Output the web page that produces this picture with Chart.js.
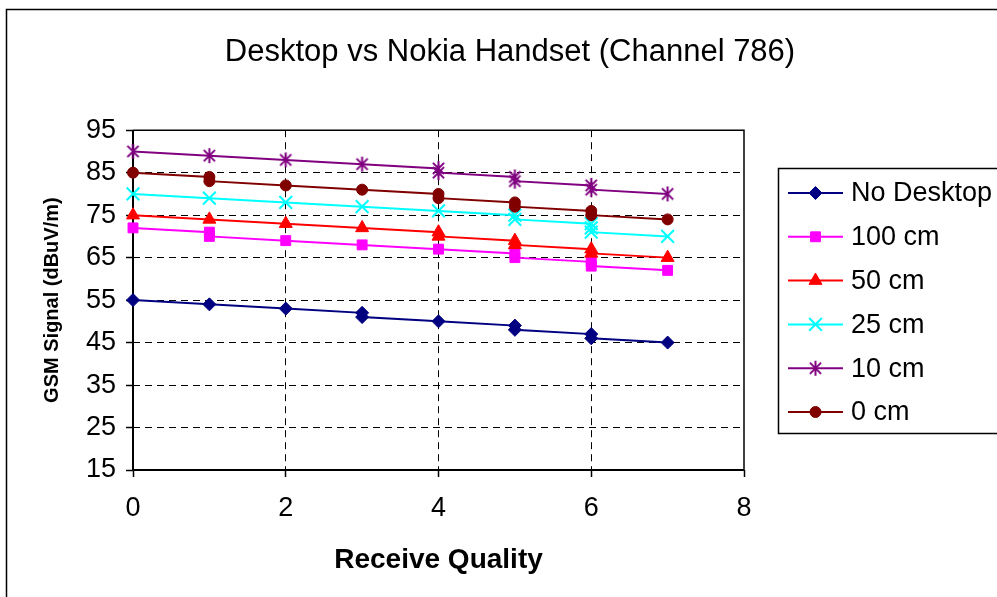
<!DOCTYPE html>
<html>
<head>
<meta charset="utf-8">
<script src="https://cdn.jsdelivr.net/npm/chart.js@4/dist/chart.umd.min.js"></script>
<style>
  html, body { margin: 0; padding: 0; background: #fff; }
  canvas { display: block; }
</style>
</head>
<body>
<canvas id="chart" width="997" height="597"></canvas>
<script>
// Receive quality (x) and GSM field strength (y) readings per handset distance
const seriesNames = ['No Desktop', '100 cm', '50 cm', '25 cm', '10 cm', '0 cm'];

const qualityNoDesktop = [0, 1, 2, 3, 3, 4, 5, 5, 6, 6, 7];
const signalNoDesktop  = [55, 54, 53, 52, 51, 50, 49, 48, 47, 46, 45];

const quality100cm = [0, 1, 1, 2, 3, 4, 5, 5, 6, 6, 7];
const signal100cm  = [72, 71, 70, 69, 68, 67, 66, 65, 64, 63, 62];

const quality50cm = [0, 1, 2, 3, 4, 4, 5, 5, 6, 6, 7];
const signal50cm  = [75, 74, 73, 72, 71, 70, 69, 68, 67, 66, 65];

const quality25cm = [0, 1, 2, 3, 4, 5, 5, 6, 6, 6, 7];
const signal25cm  = [80, 79, 78, 77, 76, 75, 74, 73, 72, 71, 70];

const quality10cm = [0, 1, 2, 3, 4, 4, 5, 5, 6, 6, 7];
const signal10cm  = [90, 89, 88, 87, 86, 85, 84, 83, 82, 81, 80];

const quality0cm = [0, 1, 1, 2, 3, 4, 4, 5, 5, 6, 6, 7];
const signal0cm  = [85, 84, 83, 82, 81, 80, 79, 78, 77, 76, 75, 74];

const xTickValues = [0, 2, 4, 6, 8];
const yTickValues = [15, 25, 35, 45, 55, 65, 75, 85, 95];

const FONT = "'Liberation Sans', Arial, Helvetica, sans-serif";
Chart.defaults.font.family = FONT;
Chart.defaults.color = '#000';

const toPoints = (xs, ys) => xs.map((x, i) => ({ x: x, y: ys[i] }));

// asterisk marker: diagonal cross plus a vertical bar
function asteriskMarker(color) {
  const size = 17;
  const cv = document.createElement('canvas');
  cv.width = size; cv.height = size;
  const g = cv.getContext('2d');
  const m = size / 2, d = 5.6, v = 7.6;
  g.strokeStyle = color;
  g.lineWidth = 2;
  g.beginPath();
  g.moveTo(m - d, m - d); g.lineTo(m + d, m + d);
  g.moveTo(m + d, m - d); g.lineTo(m - d, m + d);
  g.moveTo(m, m - v); g.lineTo(m, m + v);
  g.stroke();
  return cv;
}

const seriesQuality = [qualityNoDesktop, quality100cm, quality50cm, quality25cm, quality10cm, quality0cm];
const seriesSignal  = [signalNoDesktop, signal100cm, signal50cm, signal25cm, signal10cm, signal0cm];

const styles = [
  { color: '#000080', pointStyle: 'rectRot',  radius: 6.5, border: 1 },
  { color: '#FF00FF', pointStyle: 'rect',     radius: 7,   border: 1 },
  { color: '#FF0000', pointStyle: 'triangle', radius: 7.5, border: 1 },
  { color: '#00FFFF', pointStyle: 'crossRot', radius: 9,   border: 2 },
  { color: '#800080', pointStyle: asteriskMarker('#800080'), radius: 8, border: 2 },
  { color: '#800000', pointStyle: 'circle',   radius: 5.5, border: 1 }
];

const datasets = seriesNames.map((name, i) => ({
  label: name,
  data: toPoints(seriesQuality[i], seriesSignal[i]),
  showLine: true,
  tension: 0,
  borderColor: styles[i].color,
  backgroundColor: styles[i].color,
  borderWidth: 2,
  pointStyle: styles[i].pointStyle,
  pointRadius: styles[i].radius,
  pointBackgroundColor: styles[i].color,
  pointBorderColor: styles[i].color,
  pointBorderWidth: styles[i].border,
  clip: false,
  order: seriesNames.length - 1 - i
}));

// white page with the outer chart frame
const chartFrame = {
  id: 'chartFrame',
  beforeDraw(chart) {
    const c = chart.ctx;
    c.save();
    c.fillStyle = '#fff';
    c.fillRect(0, 0, chart.width, chart.height);
    c.strokeStyle = '#000';
    c.lineWidth = 1.5;
    c.strokeRect(6.5, 9.5, chart.width + 50, chart.height + 50);
    c.restore();
  }
};

// solid border round the plot area (axes on left and bottom)
const plotFrame = {
  id: 'plotFrame',
  beforeDatasetsDraw(chart) {
    const { left, right, top, bottom } = chart.chartArea;
    const c = chart.ctx;
    c.save();
    c.strokeStyle = '#000';
    c.lineWidth = 1.5;
    c.beginPath();
    c.moveTo(left, top); c.lineTo(right, top); c.lineTo(right, bottom);
    c.stroke();
    c.lineWidth = 2;
    c.beginPath();
    c.moveTo(left, top); c.lineTo(left, bottom); c.lineTo(right, bottom);
    c.stroke();
    c.restore();
  }
};

// boxed legend with line-and-marker samples
const boxedLegend = {
  id: 'boxedLegend',
  afterDraw(chart) {
    const c = chart.ctx;
    const box = { left: 778, top: 168, bottom: 433 };
    c.save();
    c.strokeStyle = '#000';
    c.lineWidth = 1.5;
    c.strokeRect(box.left + 0.5, box.top + 0.5, chart.width, box.bottom - box.top);
    chart.data.datasets.forEach((ds, i) => {
      const y = 193 + i * 43.8;
      c.strokeStyle = ds.borderColor;
      c.lineWidth = ds.borderWidth;
      c.beginPath();
      c.moveTo(788, y);
      c.lineTo(843, y);
      c.stroke();
      c.fillStyle = ds.pointBackgroundColor;
      c.strokeStyle = ds.pointBorderColor;
      c.lineWidth = ds.pointBorderWidth;
      if (Chart.helpers && Chart.helpers.drawPoint) {
        Chart.helpers.drawPoint(c, {
          pointStyle: ds.pointStyle,
          radius: ds.pointRadius,
          rotation: 0,
          borderWidth: ds.pointBorderWidth
        }, 815.5, y);
      }
      c.fillStyle = '#000';
      c.font = '27px ' + FONT;
      c.textBaseline = 'middle';
      c.textAlign = 'left';
      c.fillText(ds.label, 851, y + 1);
    });
    c.restore();
  }
};

const edgeAware = (lo, hi) => (ctx) => {
  const v = ctx.tick ? ctx.tick.value : null;
  return (v === lo || v === hi) ? 'rgba(0,0,0,0)' : '#000';
};

new Chart(document.getElementById('chart'), {
  type: 'scatter',
  data: { datasets: datasets },
  plugins: [chartFrame, plotFrame, boxedLegend],
  options: {
    responsive: false,
    animation: false,
    devicePixelRatio: 1,
    layout: { padding: { left: 23, right: 0, top: 0, bottom: 0 } },
    plugins: {
      legend: { display: false },
      tooltip: { enabled: false },
      title: {
        display: true,
        text: 'Desktop vs Nokia Handset (Channel 786)',
        color: '#000',
        font: { size: 31, weight: 'normal' },
        padding: { top: 34, bottom: 59 },
        fullSize: true
      }
    },
    scales: {
      x: {
        type: 'linear',
        position: 'bottom',
        min: 0,
        max: 8,
        afterBuildTicks: (s) => { s.ticks = xTickValues.map(v => ({ value: v })); },
        afterFit: (s) => { s.height = 127; },
        ticks: { font: { size: 27 }, color: '#000', padding: 15 },
        grid: {
          color: edgeAware(0, 8),
          lineWidth: 1,
          tickColor: '#000',
          tickLength: 7,
          tickWidth: 1.5
        },
        border: { display: false, dash: [7, 5] },
        title: {
          display: true,
          text: 'Receive Quality',
          color: '#000',
          font: { size: 28, weight: 'bold' },
          padding: { top: 0, bottom: 20 }
        }
      },
      y: {
        type: 'linear',
        position: 'left',
        min: 15,
        max: 95,
        afterBuildTicks: (s) => { s.ticks = yTickValues.map(v => ({ value: v })); },
        afterFit: (s) => { s.width = 110; },
        ticks: { font: { size: 27 }, color: '#000', padding: 10 },
        grid: {
          color: edgeAware(15, 95),
          lineWidth: 1,
          tickColor: '#000',
          tickLength: 7,
          tickWidth: 1.5
        },
        border: { display: false, dash: [7, 5] },
        title: {
          display: true,
          text: 'GSM Signal (dBuV/m)',
          color: '#000',
          font: { size: 20, weight: 'bold' },
          padding: { top: 17, bottom: 0 }
        }
      },
      legendSpace: {
        type: 'linear',
        axis: 'y',
        position: 'right',
        display: true,
        afterFit: (s) => { s.width = 253; },
        ticks: { display: false },
        grid: { display: false, drawTicks: false },
        border: { display: false }
      }
    }
  }
});
</script>
</body>
</html>
